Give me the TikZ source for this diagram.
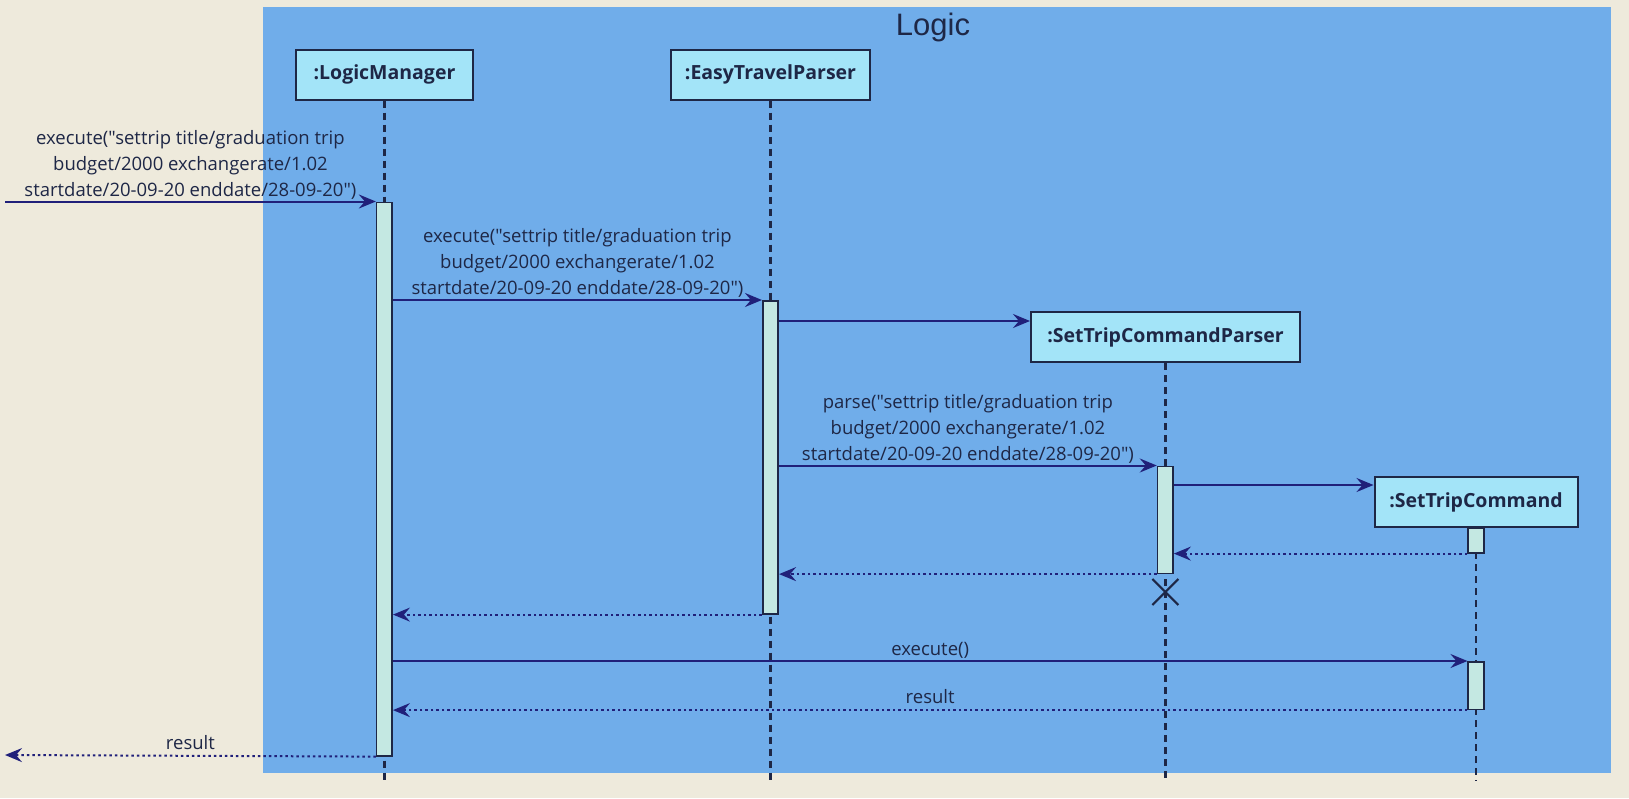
\documentclass[tikz,border=0pt]{standalone}
\usepackage{fontspec}
\setmainfont[Ligatures=TeXOff]{Open Sans}
\newfontfamily\titlefont{Liberation Sans}
\usetikzlibrary{arrows.meta}

\definecolor{pagebg}{HTML}{EEEADC}
\definecolor{logicblue}{HTML}{70ADEA}
\definecolor{headfill}{HTML}{A3E4F8}
\definecolor{barfill}{HTML}{C4E8E2}
\definecolor{inkline}{HTML}{1E2746}
\definecolor{msgline}{HTML}{20207A}

\tikzset{
  actor/.style={draw=inkline, line width=2pt, fill=headfill, text=inkline,
    font=\bfseries\fontsize{19.5}{22}\selectfont, minimum height=50pt, inner xsep=2pt},
  actbar/.style={draw=inkline, line width=1.6pt, fill=barfill, minimum width=15.5pt,
    anchor=north, inner sep=0pt},
  life/.style={draw=inkline, line width=2.2pt, dash pattern=on 7pt off 5pt},
  call/.style={draw=msgline, line width=2pt, -{Stealth[length=17pt,width=14pt,inset=6pt]}},
  reply/.style={call, dash pattern=on 2.5pt off 3pt},
  msglabel/.style={font=\fontsize{18.5}{26}\selectfont, text=inkline, align=center, inner sep=1.5pt}
}

\begin{document}
\begin{tikzpicture}[x=1pt,y=-1pt]
  \fill[pagebg] (0,0) rectangle (1629,798);
  \useasboundingbox (0,0) rectangle (1629,798);
  % group frame
  \fill[logicblue] (263,7) rectangle (1611,773);
  \node[font=\titlefont\fontsize{31}{34}\selectfont, text=inkline] (logictitle) at (933,27) {Logic};

  % participants
  \node[actor, minimum width=177pt] (lm) at (384.5,74.5) {:LogicManager};
  \node[actor, minimum width=199pt] (etp) at (770.5,74.5) {:EasyTravelParser};
  \node[actor, minimum width=269pt] (stcp) at (1165.5,337) {:SetTripCommandParser};
  \node[actor, minimum width=203pt] (stc) at (1476,502) {:SetTripCommand};

  % lifelines
  \coordinate (lmend) at (lm.south |- 0,781);
  \coordinate (etpend) at (etp.south |- 0,781);
  \coordinate (stcpend) at (stcp.south |- 0,781);
  \coordinate (stcend) at (stc.south |- 0,781);
  \draw[life] (lm.south) -- (lmend);
  \draw[life] (etp.south) -- (etpend);
  \draw[life] (stcp.south) -- (stcpend);
  \draw[life] (stc.south) -- (stcend);

  % activations
  \node[actbar, minimum height=553.5pt] (lmbar) at (384.4,201.5) {};
  \node[actbar, minimum height=313pt] (etpbar) at (770.5,300) {};
  \node[actbar, minimum height=107pt] (stcpbar) at (1165.3,465.5) {};
  \node[actbar, minimum height=25pt] (stcbar) at (1476,527) {};
  \node[actbar, minimum height=47.5pt] (stcrun) at (1476,661) {};

  \coordinate (client) at (5,201.5);
  \coordinate (clientret) at (5,755);
  \coordinate (stcpkill) at (1165.3,592);

  % messages
  \draw[call] (client) -- (lmbar.north west)
    node[midway, above, msglabel] {execute("settrip title/graduation trip\\budget/2000 exchangerate/1.02\\startdate/20-09-20 enddate/28-09-20")};
  \draw[call] (lmbar.east |- etpbar.north) -- (etpbar.north west)
    node[midway, above, msglabel] {execute("settrip title/graduation trip\\budget/2000 exchangerate/1.02\\startdate/20-09-20 enddate/28-09-20")};
  \draw[call] (etpbar.east |- stcp.west) ++(0,-16) coordinate (mk) -- (mk -| stcp.west);
  \draw[call] (etpbar.east |- stcpbar.north) -- (stcpbar.north west)
    node[midway, above, msglabel] {parse("settrip title/graduation trip\\budget/2000 exchangerate/1.02\\startdate/20-09-20 enddate/28-09-20")};
  \draw[call] (stcpbar.east |- stc.west) ++(0,-17) coordinate (mk2) -- (mk2 -| stc.west);
  \draw[reply] (stcbar.south west) -- (stcpbar.east |- stcbar.south);
  \draw[reply] (stcpbar.south west) -- (etpbar.east |- stcpbar.south);
  \draw[reply] (etpbar.south west) -- (lmbar.east |- etpbar.south);
  \draw[call] (lmbar.east |- stcrun.north) -- (stcrun.north west)
    node[midway, above, msglabel, inner sep=2pt] {execute()};
  \draw[reply] (stcrun.south west) -- (lmbar.east |- stcrun.south)
    node[midway, above, msglabel, inner sep=5pt] {result};
  \draw[reply] (lmbar.south west) -- (clientret)
    node[midway, above, msglabel, inner sep=5pt] {result};

  % destroyed parser
  \draw[inkline, line width=2.2pt] ([shift={(-13,-13)}]stcpkill) -- ([shift={(13,13)}]stcpkill)
    ([shift={(-13,13)}]stcpkill) -- ([shift={(13,-13)}]stcpkill);
\end{tikzpicture}
\end{document}
